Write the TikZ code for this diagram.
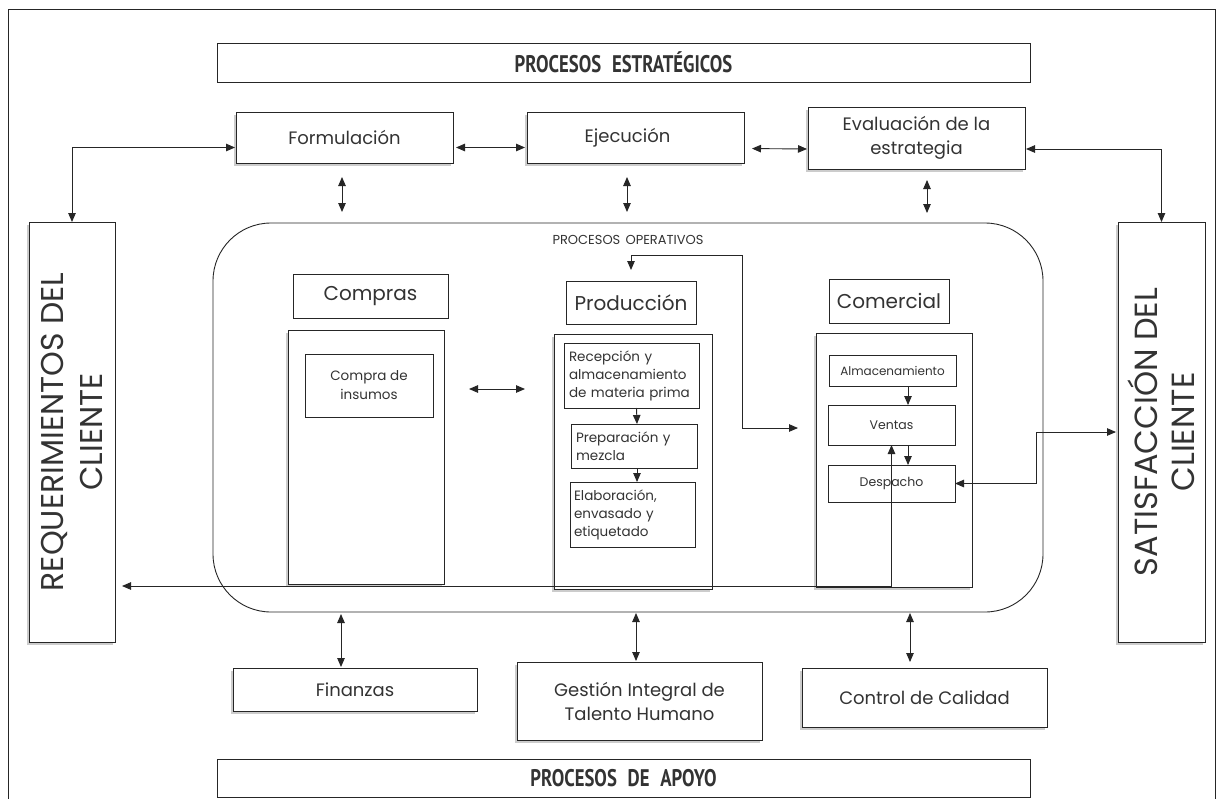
\documentclass[tikz,border=0pt]{standalone}
\usepackage{fontspec}
\setmainfont{Poppins}
\newfontfamily\headfont{PT Sans}[FakeStretch=0.78]
\usetikzlibrary{arrows.meta,calc,shadows}
\definecolor{txt}{HTML}{333333}
\definecolor{ln}{HTML}{262626}
\begin{document}
\begin{tikzpicture}[x=1pt,y=-1pt,
  bx/.style={draw=ln, line width=1pt, fill=white, inner sep=0pt, outer sep=0pt, text=txt, align=center},
  shd/.style={drop shadow={shadow xshift=-2pt, shadow yshift=-3pt, opacity=.2, fill=black}},
  tip/.tip={Triangle[length=9pt,width=7.5pt]},
  arr/.style={draw=ln, line width=0.9pt, -tip},
  dbl/.style={draw=ln, line width=0.9pt, tip-tip},
  f18/.style={font=\fontsize{18}{24}\selectfont},
  f20/.style={font=\fontsize{20}{24}\selectfont},
  fsm/.style={font=\fontsize{13.5}{18}\selectfont},
  fxs/.style={font=\fontsize{12.5}{16}\selectfont},
  head/.style={font=\headfont\bfseries\fontsize{24}{26}\selectfont}]
\useasboundingbox (0,0) rectangle (1221,798);
\fill[white] (0,0) rectangle (1221,798);
% outer frame
\draw[ln, line width=1pt] (8,800) -- (8,9) -- (1215,9) -- (1215,800);

% strategic row
\node[bx, minimum width=813pt, minimum height=39pt, head] (strat) at (623.5,62.5) {PROCESOS\hspace{0.45em}ESTRATÉGICOS};
\node[bx, shd, minimum width=217pt, minimum height=51pt, f18] (form) at (344.5,137.5) {Formulación};
\node[bx, shd, minimum width=217pt, minimum height=51pt, f18] (ejec) at (635.5,137.5) {\hspace*{-16pt}Ejecución};
\node[bx, shd, minimum width=217pt, minimum height=62pt, f18] (eval) at (916.5,138) {Evaluación de la\\estrategia};

% client boxes
\node[bx, shd, minimum width=86pt, minimum height=420pt] (req) at (72,432) {};
\node[rotate=90, text=txt, align=center, font=\fontsize{31.5}{39}\selectfont] (reqtxt) at (req.center) {REQUERIMIENTOS DEL\\CLIENTE};
\node[bx, shd, minimum width=87pt, minimum height=420pt] (sat) at (1161.5,432) {};
\node[rotate=90, text=txt, align=center, font=\fontsize{32}{37}\selectfont] (sattxt) at (sat.center) {SATISFACCIÓN DEL\\CLIENTE};

% operative processes
\node[draw=ln, line width=0.9pt, rounded corners=58pt, minimum width=830pt, minimum height=389pt, inner sep=0pt] (ops) at (628,417.5) {};
\node[text=txt, font=\fontsize{13}{15}\selectfont] (opstitle) at (628,240) {PROCESOS\hspace{0.4em}OPERATIVOS};

\node[bx, minimum width=155pt, minimum height=44pt, f20] (comphead) at (370.5,296) {Compras};
\node[bx, shd, minimum width=156pt, minimum height=254pt] (compbig) at (366,457) {};
\node[bx, minimum width=128pt, minimum height=63pt, font=\fontsize{13.5}{19}\selectfont] (compins) at (369,385.5) {Compra de\\insumos};

\node[bx, minimum width=130pt, minimum height=43pt, f20] (prodhead) at (631,302.5) {Producción};
\node[bx, shd, minimum width=158pt, minimum height=255pt] (prodbig) at (633,461.5) {};
\node[bx, minimum width=135pt, minimum height=65pt, fsm, align=left, text width=125pt] (rec) at (631.5,375.5) {Recepción y\\almacenamiento\\de materia prima};
\node[bx, minimum width=126pt, minimum height=44pt, fsm, align=left, text width=116pt] (prep) at (634,446) {Preparación y\\mezcla};
\node[bx, minimum width=125pt, minimum height=65pt, fsm, align=left, text width=117pt] (elab) at (632.5,514.5) {Elaboración,\\envasado y\\etiquetado};

\node[bx, minimum width=120pt, minimum height=44pt, f20] (comhead) at (889,301) {Comercial};
\node[bx, shd, minimum width=156pt, minimum height=254pt] (combig) at (894,460) {};
\node[bx, minimum width=127pt, minimum height=31pt, font=\fontsize{12}{14}\selectfont] (alm) at (892.5,370.5) {Almacenamiento};
\node[bx, minimum width=127pt, minimum height=40pt, fxs] (ven) at (891.5,425) {Ventas};
\node[bx, minimum width=127pt, minimum height=37pt, fxs] (des) at (891.5,483.5) {Despacho};

% support row
\node[bx, shd, minimum width=244pt, minimum height=43pt, f18] (fin) at (355,689.5) {Finanzas};
\node[bx, shd, minimum width=245pt, minimum height=78pt, f18] (gest) at (639.5,701) {Gestión Integral de\\Talento Humano};
\node[bx, shd, minimum width=245pt, minimum height=59pt, f18] (ctrl) at (924.5,697.5) {Control de Calidad};
\node[bx, minimum width=813pt, minimum height=38pt, head] (apoyo) at (623.5,778) {PROCESOS\hspace{0.45em}DE\hspace{0.45em}APOYO};

% strategic connectors
\draw[dbl, shorten >=1pt] (req.north) |- ($(form.west)+(0,10)$);
\draw[dbl, shorten <=3pt, shorten >=2pt] ($(form.east)+(0,10)$) -- ($(ejec.west)+(0,10)$);
\draw[dbl, shorten <=8pt, shorten >=1pt] ($(ejec.east)+(0,11)$) -- ($(eval.west)+(0,11)$);
\draw[dbl, shorten >=1pt] (sat.north) |- ($(eval.east)+(0,11)$);
\draw[dbl, shorten <=14pt, shorten >=11pt] ($(form.south)+(-2.5,0)$) -- ++(0,60);
\draw[dbl, shorten <=14pt, shorten >=11pt] ($(ejec.south)+(-8.5,0)$) -- ++(0,60);
\draw[dbl, shorten <=11pt, shorten >=10pt] ($(eval.south)+(10.5,0)$) -- ++(0,54);

% support connectors
\draw[dbl, shorten <=1pt, shorten >=2pt] ($(fin.north)+(-14,0)$) -- ++(0,-56);
\draw[dbl, shorten <=1pt, shorten >=1pt] ($(gest.north)+(-3.5,0)$) -- ++(0,-50);
\draw[dbl, shorten <=6pt, shorten >=1pt] ($(ctrl.north)+(-14.5,0)$) -- ++(0,-56);

% operative connectors
\draw[dbl] ($(compbig.east)+(25,-68)$) -- ($(prodbig.west)+(-29,-72.5)$);
\draw[arr] ([xshift=5pt]rec.south) -- ([xshift=3pt]prep.north);
\draw[arr] ([xshift=3pt]prep.south) -- ([xshift=4.5pt]elab.north);
\draw[arr] ([xshift=15.5pt]alm.south) -- ([xshift=16.5pt]ven.north);
\draw[arr] ([xshift=16.5pt]ven.south) -- ([xshift=16.5pt]des.north);
\draw[dbl, shorten >=7pt] (ven.south) |- ($(req.east)+(0,154)$);
\draw[dbl, shorten >=2pt] (des.east) -- ++(81,0) |- (sat.west);
\draw[dbl] ($(prodhead.north)+(0,-11)$) -- ++(0,-15) -| ($(combig.west)+(-74,-32)$) -- ($(combig.west)+(-18,-32)$);
\end{tikzpicture}
\end{document}
